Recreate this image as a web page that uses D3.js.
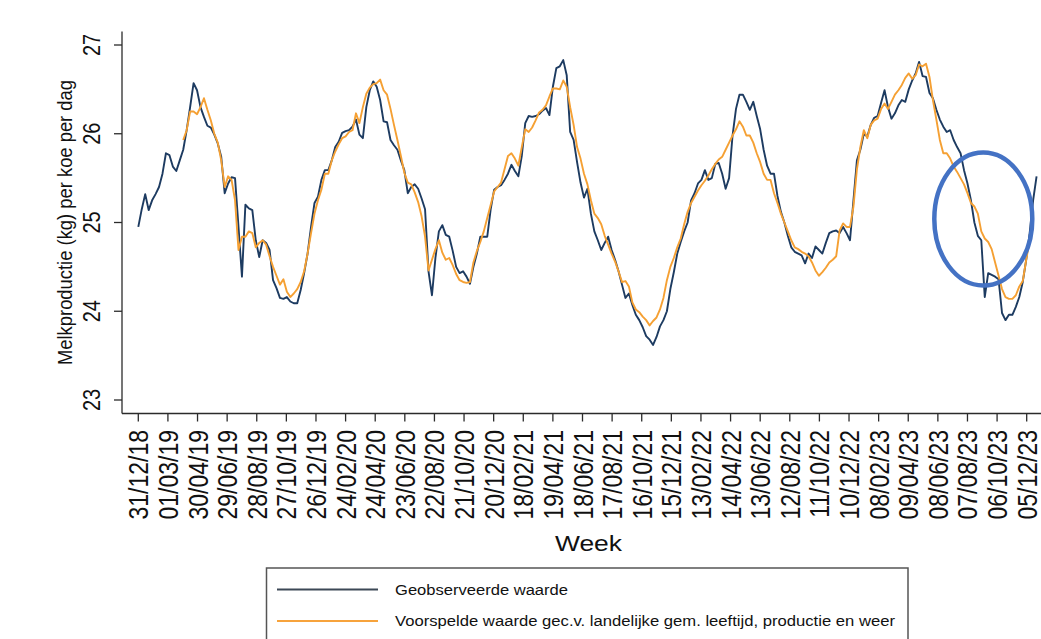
<!DOCTYPE html>
<html>
<head>
<meta charset="utf-8">
<script src="https://cdn.jsdelivr.net/npm/d3@7"></script>
<style>
  html, body { margin: 0; padding: 0; background: #ffffff; }
  svg { display: block; font-family: "Liberation Sans", Arial, sans-serif; }
</style>
</head>
<body>
<svg id="chart" width="1041" height="639"></svg>
<script>
// ---------- DATA ----------
const startWeek = "31/12/18";          // week 0 of the observed series
const predictedStartIndex = 13;         // predicted series starts at week 13

const observed = [
  24.95,25.15,25.32,25.14,25.25,25.32,25.40,25.55,25.78,25.76,
  25.63,25.58,25.70,25.82,26.04,26.30,26.57,26.49,26.30,26.19,
  26.09,26.07,25.99,25.89,25.74,25.33,25.44,25.51,25.50,24.95,
  24.39,25.20,25.16,25.14,24.80,24.61,24.80,24.77,24.69,24.35,
  24.26,24.15,24.14,24.16,24.11,24.09,24.09,24.24,24.43,24.65,
  24.95,25.22,25.29,25.48,25.59,25.59,25.70,25.85,25.91,26.01,
  26.03,26.04,26.08,26.16,25.99,25.95,26.30,26.49,26.59,26.53,
  26.38,26.14,26.13,25.93,25.87,25.82,25.70,25.59,25.33,25.40,
  25.43,25.38,25.27,25.15,24.45,24.18,24.60,24.90,24.97,24.86,
  24.84,24.68,24.50,24.43,24.45,24.39,24.31,24.50,24.65,24.84,
  24.84,24.84,25.15,25.37,25.40,25.42,25.48,25.55,25.65,25.58,
  25.52,25.75,26.12,26.20,26.19,26.20,26.22,26.26,26.29,26.21,
  26.53,26.74,26.76,26.83,26.66,26.02,25.93,25.68,25.45,25.28,
  25.38,25.10,24.90,24.80,24.69,24.77,24.84,24.69,24.58,24.45,
  24.30,24.15,24.20,24.07,23.96,23.90,23.82,23.72,23.68,23.62,
  23.71,23.83,23.90,24.00,24.25,24.44,24.65,24.78,24.90,25.00,
  25.25,25.33,25.44,25.48,25.59,25.48,25.50,25.66,25.67,25.55,
  25.38,25.50,25.98,26.28,26.44,26.44,26.36,26.27,26.36,26.20,
  26.05,25.82,25.64,25.55,25.55,25.30,25.12,25.00,24.85,24.72,
  24.67,24.65,24.63,24.54,24.65,24.60,24.73,24.69,24.65,24.77,
  24.88,24.90,24.91,24.88,24.95,24.88,24.80,25.25,25.70,25.82,
  26.00,25.97,26.10,26.18,26.20,26.35,26.49,26.30,26.17,26.23,
  26.32,26.38,26.36,26.50,26.60,26.68,26.81,26.65,26.64,26.46,
  26.40,26.27,26.16,26.08,26.02,26.04,25.93,25.85,25.78,25.59,
  25.44,25.25,25.00,24.85,24.80,24.16,24.43,24.41,24.39,24.36,
  23.98,23.90,23.96,23.96,24.05,24.16,24.33,24.58,24.88,25.25,
  25.52
];

const predicted = [
  25.93,26.04,26.25,26.25,26.22,26.30,26.40,26.27,26.15,26.00,
  25.90,25.70,25.40,25.52,25.48,25.25,24.69,24.84,24.84,24.90,
  24.88,24.72,24.77,24.80,24.75,24.62,24.50,24.40,24.30,24.36,
  24.22,24.16,24.20,24.25,24.33,24.45,24.65,24.88,25.10,25.25,
  25.37,25.55,25.55,25.70,25.80,25.88,25.95,25.97,26.02,26.04,
  26.23,26.12,26.30,26.45,26.52,26.56,26.57,26.61,26.49,26.44,
  26.28,26.10,25.93,25.75,25.56,25.45,25.43,25.34,25.23,25.07,
  24.84,24.46,24.58,24.70,24.80,24.66,24.58,24.60,24.52,24.42,
  24.35,24.33,24.32,24.33,24.55,24.68,24.78,24.90,25.05,25.20,
  25.35,25.40,25.45,25.60,25.75,25.78,25.72,25.64,25.85,26.05,
  26.02,26.07,26.15,26.24,26.27,26.32,26.42,26.51,26.51,26.50,
  26.60,26.53,26.30,26.10,25.85,25.72,25.55,25.43,25.25,25.10,
  25.05,24.98,24.85,24.75,24.65,24.56,24.45,24.33,24.34,24.28,
  24.10,24.02,23.99,23.94,23.90,23.84,23.89,23.93,24.02,24.15,
  24.35,24.50,24.60,24.72,24.82,24.98,25.12,25.22,25.29,25.36,
  25.42,25.47,25.53,25.60,25.66,25.71,25.74,25.82,25.90,25.98,
  26.05,26.14,26.08,25.98,25.98,25.90,25.78,25.68,25.55,25.48,
  25.48,25.33,25.22,25.10,25.00,24.90,24.80,24.72,24.70,24.67,
  24.65,24.62,24.55,24.46,24.40,24.44,24.49,24.55,24.58,24.62,
  24.91,24.99,24.95,24.95,25.18,25.60,25.85,26.04,25.95,26.10,
  26.15,26.17,26.28,26.34,26.28,26.36,26.44,26.49,26.55,26.63,
  26.68,26.62,26.66,26.78,26.76,26.79,26.64,26.38,26.16,25.93,
  25.78,25.78,25.72,25.63,25.57,25.50,25.43,25.33,25.22,25.18,
  25.10,24.90,24.82,24.78,24.70,24.55,24.40,24.25,24.16,24.14,
  24.14,24.18,24.28,24.34,24.58,24.80,24.95
];

const xTickLabels = [
  "31/12/18","01/03/19","30/04/19","29/06/19","28/08/19","27/10/19","26/12/19",
  "24/02/20","24/04/20","23/06/20","22/08/20","21/10/20","20/12/20","18/02/21",
  "19/04/21","18/06/21","17/08/21","16/10/21","15/12/21","13/02/22","14/04/22",
  "13/06/22","12/08/22","11/10/22","10/12/22","08/02/23","09/04/23","08/06/23",
  "07/08/23","06/10/23","05/12/23"
];
const yTicks = [23, 24, 25, 26, 27];

const seriesNames = ["Geobserveerde waarde",
  "Voorspelde waarde gec.v. landelijke gem. leeftijd, productie en weer"];
const yTitle = "Melkproductie (kg) per koe per dag";
const xTitle = "Week";

// ---------- SETUP ----------
const svg = d3.select("#chart");
const parse = d3.utcParse("%d/%m/%y");
const fmt = d3.utcFormat("%d/%m/%y");
const t0 = parse(startWeek);
const weekDate = i => d3.utcDay.offset(t0, 7 * i);

const tickDates = xTickLabels.map(parse);
const x = d3.scaleUtc()
  .domain([tickDates[0], tickDates[tickDates.length - 1]])
  .range([138.3, 1026.7]);
const y = d3.scaleLinear().domain([23, 27]).range([400, 45]);

const axisX0 = 122, axisY0 = 413.5;
const axisColor = "#2b2b2b";
const stretch = 1.2;

svg.append("rect").attr("width", 1041).attr("height", 639).attr("fill", "#fff");

// Y axis
const gy = svg.append("g");
gy.append("line").attr("x1", axisX0).attr("x2", axisX0)
  .attr("y1", 31.5).attr("y2", axisY0).attr("stroke", axisColor).attr("stroke-width", 1.3);
yTicks.forEach(v => {
  gy.append("line").attr("x1", axisX0 - 8).attr("x2", axisX0)
    .attr("y1", y(v)).attr("y2", y(v)).attr("stroke", axisColor).attr("stroke-width", 1.3);
  gy.append("text")
    .attr("transform", `translate(100,${y(v)}) scale(${stretch},1) rotate(-90)`)
    .attr("text-anchor", "middle").attr("font-size", 20).attr("fill", "#111")
    .text(v);
});
svg.append("text")
  .attr("transform", `translate(72,222.5) scale(${stretch},1) rotate(-90)`)
  .attr("text-anchor", "middle").attr("font-size", 17).attr("fill", "#111")
  .attr("textLength", 285).attr("lengthAdjust", "spacingAndGlyphs")
  .text(yTitle);

// X axis
const gx = svg.append("g");
gx.append("line").attr("x1", axisX0).attr("x2", 1041)
  .attr("y1", axisY0).attr("y2", axisY0).attr("stroke", axisColor).attr("stroke-width", 1.3);
tickDates.forEach(d => {
  const tx = x(d);
  gx.append("line").attr("x1", tx).attr("x2", tx)
    .attr("y1", axisY0).attr("y2", axisY0 + 8).attr("stroke", axisColor).attr("stroke-width", 1.3);
  gx.append("text")
    .attr("transform", `translate(${tx + 10},430) scale(${stretch},1) rotate(-90)`)
    .attr("text-anchor", "end").attr("font-size", 23).attr("fill", "#111")
    .text(fmt(d));
});
svg.append("text").attr("x", 588.5).attr("y", 551)
  .attr("text-anchor", "middle").attr("font-size", 22).attr("fill", "#111")
  .attr("textLength", 67).attr("lengthAdjust", "spacingAndGlyphs")
  .text(xTitle);

// Lines
const line = d3.line().x(d => x(d.date)).y(d => y(d.value));
const obsData = observed.map((v, i) => ({ date: weekDate(i), value: v }));
const predData = predicted.map((v, i) => ({ date: weekDate(i + predictedStartIndex), value: v }));
const colors = ["#1d3b61", "#f5a033"];

svg.append("path").datum(obsData).attr("d", line)
  .attr("fill", "none").attr("stroke", colors[0]).attr("stroke-width", 1.9)
  .attr("stroke-linejoin", "round");
svg.append("path").datum(predData).attr("d", line)
  .attr("fill", "none").attr("stroke", colors[1]).attr("stroke-width", 1.9)
  .attr("stroke-linejoin", "round");

// Highlight ellipse
svg.append("ellipse").attr("cx", 983.3).attr("cy", 219).attr("rx", 49).attr("ry", 66.5)
  .attr("fill", "none").attr("stroke", "#4472c4").attr("stroke-width", 4.5);

// Legend
const lg = svg.append("g");
lg.append("rect").attr("x", 266.5).attr("y", 568).attr("width", 641.5).attr("height", 90)
  .attr("fill", "#fff").attr("stroke", "#555").attr("stroke-width", 1.5);
const legendColors = ["#3c4856", "#f7a33c"];
const legendLens = [173, 500];
seriesNames.forEach((name, i) => {
  const ly = 589.5 + i * 31.5;
  lg.append("line").attr("x1", 277).attr("x2", 378).attr("y1", ly).attr("y2", ly)
    .attr("stroke", legendColors[i]).attr("stroke-width", 2);
  lg.append("text").attr("x", 395).attr("y", ly + 5)
    .attr("font-size", 14).attr("fill", "#111")
    .attr("textLength", legendLens[i]).attr("lengthAdjust", "spacingAndGlyphs")
    .text(name);
});
</script>
</body>
</html>
